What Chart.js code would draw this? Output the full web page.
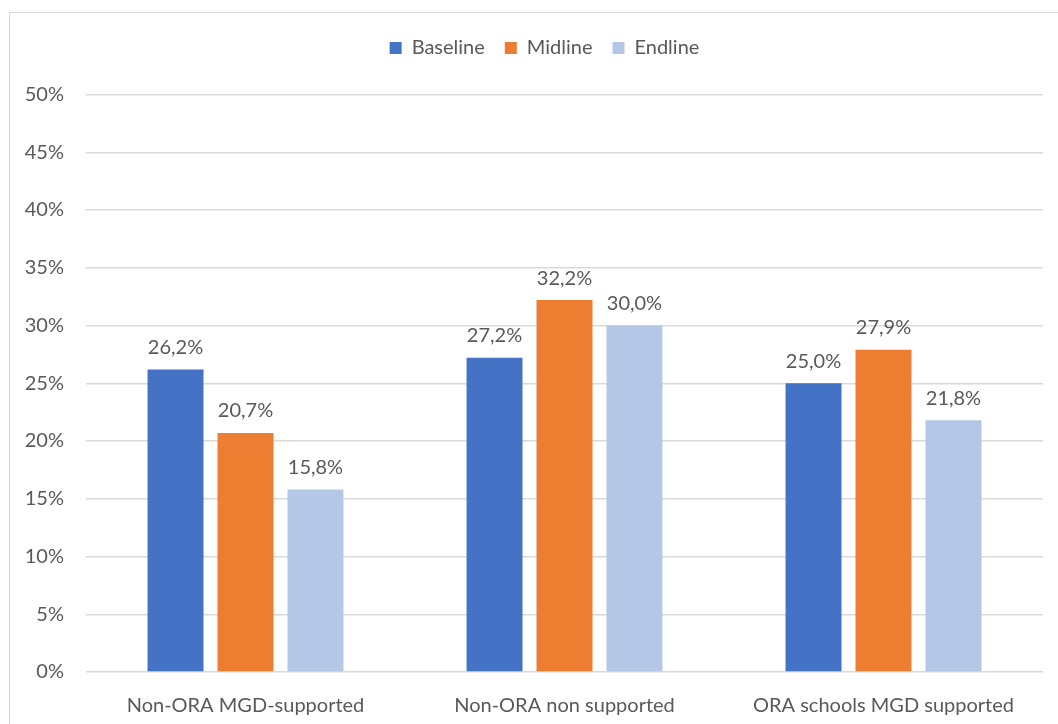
<!DOCTYPE html>
<html>
<head>
<meta charset="utf-8">
<script src="https://cdn.jsdelivr.net/npm/chart.js@4.4.0/dist/chart.umd.min.js"></script>
<style>
  html, body { margin: 0; padding: 0; background: #fff; }
  .frame {
    position: absolute; left: 9px; top: 12px; width: 1100px; height: 760px;
    border: 1px solid #d9d9d9; box-sizing: border-box;
  }
  .chart-container { position: absolute; left: 0; top: 0; width: 1058px; height: 724px; }
</style>
</head>
<body>
<div class="frame"></div>
<div class="chart-container">
  <canvas id="myChart" width="1058" height="724"></canvas>
</div>
<script>
  var categories = ["Non-ORA MGD-supported", "Non-ORA non supported", "ORA schools MGD supported"];
  var baseline = [26.2, 27.2, 25.0];
  var midline = [20.7, 32.2, 27.9];
  var endline = [15.8, 30.0, 21.8];
  var yTicks = [0, 5, 10, 15, 20, 25, 30, 35, 40, 45, 50];

  var textColor = "#595959";
  var fontFamily = "Lato, 'Liberation Sans', sans-serif";
  Chart.defaults.font.family = fontFamily;
  Chart.defaults.font.size = 20;
  Chart.defaults.color = textColor;

  function pct(v) {
    return v.toFixed(1).replace(".", ",") + "%";
  }

  // fixed legend height, and nudge the legend a bit to the right
  var legendBox = {
    id: "legendBox",
    beforeInit: function (chart) {
      var fit = chart.legend.fit;
      chart.legend.fit = function () {
        fit.call(this);
        this.height = 76.5;
      };
    },
    afterLayout: function (chart) {
      chart.legend.left += 11.5;
      chart.legend.right += 11.5;
    },
  };

  // value labels above each bar
  var barLabels = {
    id: "barLabels",
    afterDatasetsDraw: function (chart) {
      var ctx = chart.ctx;
      ctx.save();
      ctx.font = "20px " + fontFamily;
      ctx.fillStyle = textColor;
      ctx.textAlign = "center";
      ctx.textBaseline = "middle";
      chart.data.datasets.forEach(function (ds, i) {
        chart.getDatasetMeta(i).data.forEach(function (bar, j) {
          ctx.fillText(pct(ds.data[j]), bar.x, bar.y - 22);
        });
      });
      ctx.restore();
    },
  };

  var ctx = document.getElementById("myChart").getContext("2d");
  var myChart = new Chart(ctx, {
    type: "bar",
    data: {
      labels: categories,
      datasets: [
        { label: "Baseline", data: baseline, backgroundColor: "#4472C4" },
        { label: "Midline", data: midline, backgroundColor: "#ED7D31" },
        { label: "Endline", data: endline, backgroundColor: "#B4C7E7" },
      ],
    },
    options: {
      responsive: false,
      animation: false,
      categoryPercentage: 0.658,
      barPercentage: 0.8,
      layout: { padding: { left: 23, right: 15, top: 18, bottom: 0 } },
      scales: {
        x: {
          grid: { display: false },
          border: { display: false },
          ticks: { padding: 14, color: textColor },
          afterFit: function (scale) {
            scale.height = 52;
          },
        },
        y: {
          min: 0,
          max: 50,
          afterBuildTicks: function (scale) {
            scale.ticks = yTicks.map(function (v) {
              return { value: v };
            });
          },
          ticks: {
            padding: 22,
            color: textColor,
            callback: function (v) {
              return v + "%";
            },
          },
          grid: { color: "#d9d9d9", lineWidth: 1.5, drawTicks: false },
          border: { display: false },
          afterFit: function (scale) {
            scale.width = 63;
          },
        },
      },
      plugins: {
        legend: {
          position: "top",
          labels: {
            boxWidth: 12,
            boxHeight: 12,
            padding: 20,
            color: textColor,
          },
        },
        tooltip: { enabled: false },
      },
    },
    plugins: [legendBox, barLabels],
  });
</script>
</body>
</html>
